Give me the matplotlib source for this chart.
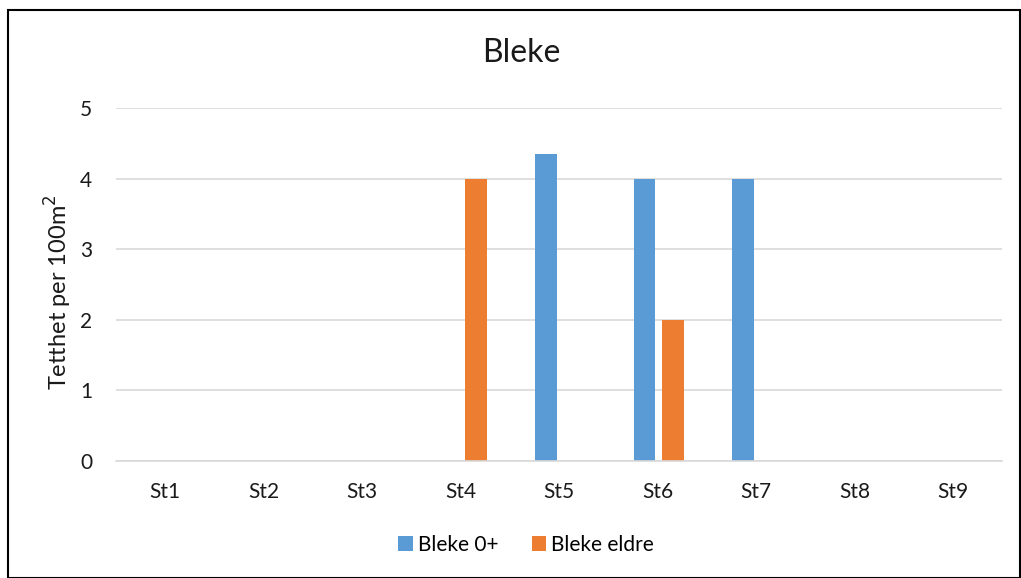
import numpy as np
import matplotlib.pyplot as plt
from matplotlib.patches import Rectangle

plt.rcParams['font.family'] = ['Lato', 'DejaVu Sans']

stations = ["St1", "St2", "St3", "St4", "St5", "St6", "St7", "St8", "St9"]
bleke_0 = [0, 0, 0, 0, 4.35, 4, 4, 0, 0]
bleke_eldre = [0, 0, 0, 4, 0, 2, 0, 0, 0]

blue = "#5b9bd5"
orange = "#ed7d31"
grid_col = "#d9d9d9"
txt = "#1a1a1a"

fig = plt.figure(figsize=(10.21, 5.78), dpi=100)
ax = fig.add_axes([116 / 1021, 1 - 461 / 578, 886 / 1021, 353 / 578])

x = np.arange(len(stations))
w = 0.22
ax.bar(x - 0.13, bleke_0, w, color=blue, label="Bleke 0+", zorder=3)
ax.bar(x + 0.155, bleke_eldre, w, color=orange, label="Bleke eldre", zorder=3)

ax.set_xlim(-0.5, len(stations) - 0.5)
ax.set_ylim(0, 5)
ax.set_yticks(range(6))
ax.set_xticks(x)
ax.set_xticklabels(stations)
ax.yaxis.grid(True, color=grid_col, linewidth=1.2, zorder=0)
for side in ["top", "right", "left"]:
    ax.spines[side].set_visible(False)
ax.spines["bottom"].set_color(grid_col)
ax.spines["bottom"].set_linewidth(1.2)
ax.spines["bottom"].set_zorder(4)
ax.tick_params(axis="both", length=0, labelsize=15, colors=txt)
ax.tick_params(axis="x", pad=15)
ax.tick_params(axis="y", pad=17)

fig.text(58 / 1021, 1 - 292 / 578, "Tetthet per 100m$^2$", rotation=90,
         ha="center", va="center", fontsize=17, color=txt)
fig.text(521 / 1021, 1 - 53 / 578, "Bleke", ha="center", va="center",
         fontsize=23, color=txt)

fig.legend(loc="center", bbox_to_anchor=(526 / 1021, 1 - 545 / 578), ncol=2,
           frameon=False, fontsize=15, handlelength=0.7, handleheight=0.7,
           handletextpad=0.25, columnspacing=1.6)

# outer chart border
fig.patches.append(Rectangle((8 / 1021, 0.5 / 578), 1012 / 1021, 568 / 578,
                             transform=fig.transFigure, fill=False,
                             edgecolor="black", linewidth=1.5))

fig.savefig("out.png", dpi=100)
